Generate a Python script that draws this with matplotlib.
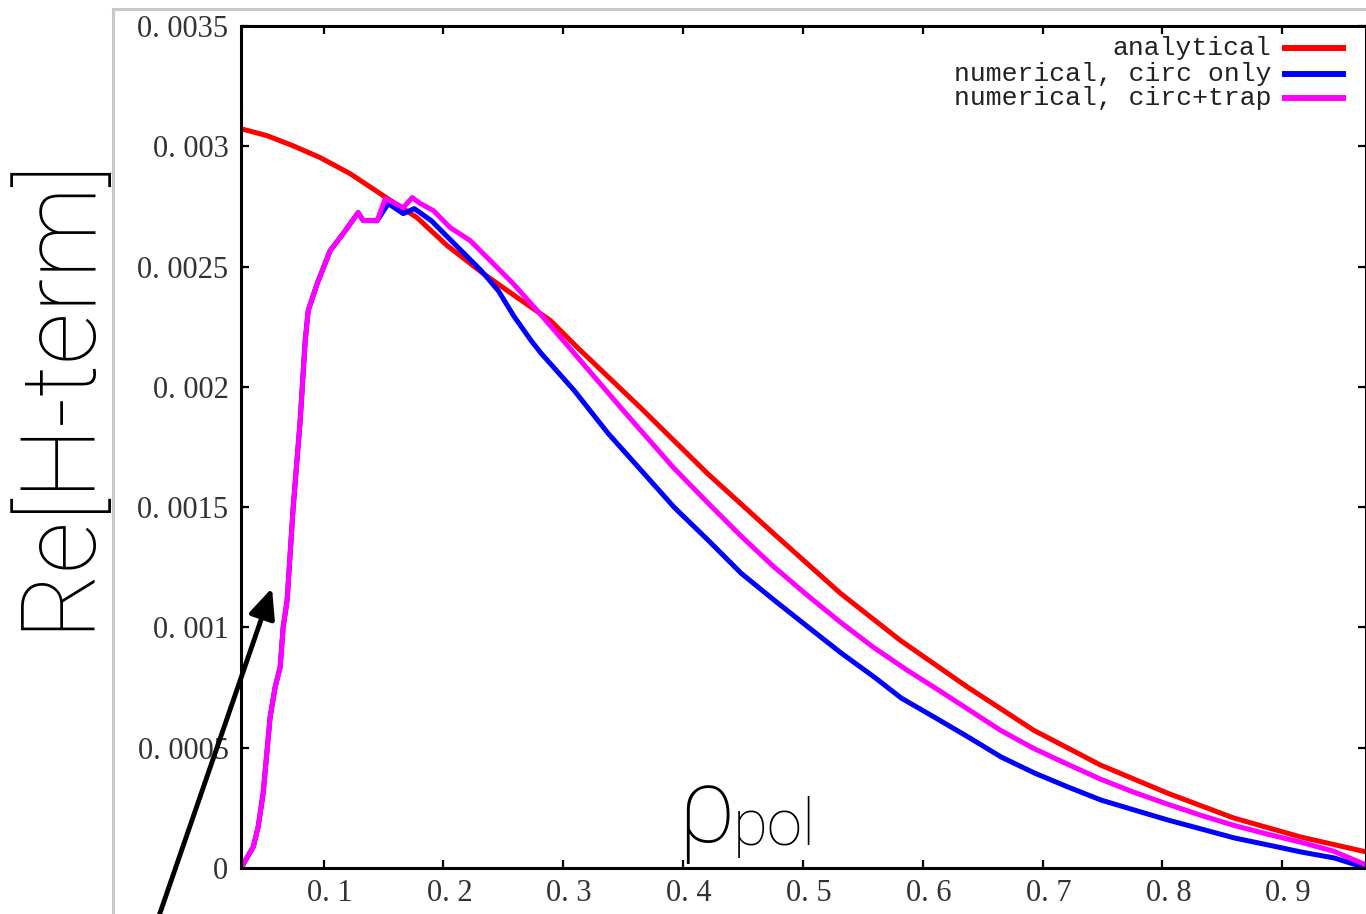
import matplotlib.pyplot as plt
from matplotlib.lines import Line2D
from matplotlib.transforms import ScaledTranslation

# analytical curve
rho_analytical = [0.031, 0.0528, 0.0745, 0.0971, 0.1221, 0.1497, 0.1780, 0.2031, 0.2332,
                  0.2616, 0.2892, 0.3117, 0.3643, 0.4203, 0.4754, 0.5313, 0.5811, 0.6374,
                  0.6925, 0.7484, 0.8044, 0.8595, 0.9154, 0.9705]
h_analytical = [0.003073, 0.003044, 0.003002, 0.002953, 0.002886, 0.002795, 0.002703, 0.002587,
                0.002471, 0.002371, 0.002276, 0.002164, 0.001914, 0.001640, 0.001391, 0.001142,
                0.000947, 0.000752, 0.000573, 0.000428, 0.000311, 0.000208, 0.000129, 0.0000664]

# numerical, circulating particles only
rho_circ = [0.031, 0.0412, 0.0453, 0.0495, 0.0528, 0.0553, 0.0595, 0.0637, 0.0662, 0.0695,
            0.0745, 0.0804, 0.0846, 0.0871, 0.0946, 0.1054, 0.1163, 0.1288, 0.1330, 0.1447,
            0.1539, 0.1664, 0.1756, 0.1898, 0.2040, 0.2173, 0.2315, 0.2457, 0.2590, 0.2732,
            0.2816, 0.3091, 0.3375, 0.3650, 0.3926, 0.4210, 0.4485, 0.4761, 0.5045, 0.5321,
            0.5597, 0.5822, 0.6097, 0.6381, 0.6656, 0.6932, 0.7216, 0.7491, 0.7766, 0.8050,
            0.8326, 0.8601, 0.8885, 0.9160, 0.9436, 0.9702]
h_circ = [0.0, 0.0000872, 0.000170, 0.000311, 0.000490, 0.000627, 0.000752, 0.000835, 0.001001,
          0.001113, 0.001495, 0.001860, 0.002193, 0.002317, 0.002429, 0.002566, 0.002637,
          0.002724, 0.002691, 0.002691, 0.002762, 0.002720, 0.002741, 0.002691, 0.002620,
          0.002554, 0.002483, 0.002400, 0.002292, 0.002192, 0.002139, 0.001985, 0.001806,
          0.001653, 0.001499, 0.001362, 0.001225, 0.001113, 0.001001, 0.000893, 0.000793,
          0.000706, 0.000627, 0.000544, 0.000461, 0.000395, 0.000336, 0.000282, 0.000241,
          0.000199, 0.000162, 0.000125, 0.0000955, 0.0000664, 0.0000415, 0.0]

# numerical, circulating + trapped particles
rho_trap = [0.031, 0.0412, 0.0453, 0.0495, 0.0528, 0.0553, 0.0595, 0.0637, 0.0662, 0.0695,
            0.0745, 0.0804, 0.0846, 0.0871, 0.0946, 0.1054, 0.1163, 0.1288, 0.1330, 0.1447,
            0.1514, 0.1581, 0.1664, 0.1739, 0.1806, 0.1915, 0.2056, 0.2223, 0.2390, 0.2582,
            0.2783, 0.2999, 0.3250, 0.3500, 0.3918, 0.4202, 0.4477, 0.4753, 0.5036, 0.5312,
            0.5587, 0.5871, 0.6146, 0.6647, 0.6922, 0.7206, 0.7481, 0.7756, 0.8040, 0.8316,
            0.8591, 0.8875, 0.9150, 0.9426, 0.9702]
h_trap = [0.0, 0.0000872, 0.000170, 0.000311, 0.000490, 0.000627, 0.000752, 0.000835, 0.001001,
          0.001113, 0.001495, 0.001860, 0.002193, 0.002317, 0.002429, 0.002566, 0.002637,
          0.002724, 0.002691, 0.002691, 0.002782, 0.002766, 0.002745, 0.002787, 0.002762,
          0.002733, 0.002662, 0.002608, 0.002525, 0.002429, 0.002317, 0.002193, 0.002047,
          0.001902, 0.001665, 0.001520, 0.001383, 0.001254, 0.001134, 0.001022, 0.000918,
          0.000822, 0.000735, 0.000573, 0.000498, 0.000432, 0.000370, 0.000316, 0.000266,
          0.000220, 0.000178, 0.000141, 0.000108, 0.0000706, 0.0000125]

xticks = [0.1, 0.2, 0.3, 0.4, 0.5, 0.6, 0.7, 0.8, 0.9]
xtick_labels = ['0. 1', '0. 2', '0. 3', '0. 4', '0. 5', '0. 6', '0. 7', '0. 8', '0. 9']
yticks = [0, 0.0005, 0.001, 0.0015, 0.002, 0.0025, 0.003, 0.0035]
ytick_labels = ['0', '0. 0005', '0. 001', '0. 0015', '0. 002', '0. 0025', '0. 003', '0. 0035']
series_labels = ['analytical', 'numerical, circ only', 'numerical, circ+trap']
colors = ['#ff0000', '#0000ff', '#ff00ff']

W, H = 1366, 914
fig = plt.figure(figsize=(W / 100, H / 100), dpi=100)


def fx(px):
    return px / W


def fy(py):
    return 1 - py / H


ax = fig.add_axes([fx(241), fy(868), fx(1366) - fx(241), fy(26) - fy(868)])

for xs, ys, c in [(rho_analytical, h_analytical, colors[0]),
                  (rho_circ, h_circ, colors[1]),
                  (rho_trap, h_trap, colors[2])]:
    ax.plot(xs, ys, color=c, lw=3.6, solid_joinstyle='round')

ax.set_xlim(0.031, 0.970)
ax.set_ylim(0, 0.0035)
ax.set_xticks(xticks)
ax.set_xticklabels(xtick_labels, fontfamily='Liberation Serif', fontsize=22, color='#333333')
ax.set_yticks(yticks)
ax.set_yticklabels(ytick_labels, fontfamily='Liberation Serif', fontsize=22, color='#333333')
ax.tick_params(direction='in', length=6, width=1.6, top=True, right=True, color='black')
ax.tick_params(axis='x', pad=8)
ax.tick_params(axis='y', pad=9)
# gnuplot puts the x labels a touch right of the ticks
shift = ScaledTranslation(6 / 100, 0, fig.dpi_scale_trans)
for lbl in ax.get_xticklabels():
    lbl.set_transform(lbl.get_transform() + shift)
for s in ax.spines.values():
    s.set_linewidth(2.2)
    s.set_color('black')

# legend, gnuplot style: text right-aligned, sample line on the right
rows_y = [48, 74, 98]
for lab, c, ry in zip(series_labels, colors, rows_y):
    fig.text(fx(1271), fy(ry), lab, ha='right', va='center', fontfamily='Liberation Mono',
             fontsize=19, color='#222222')
    fig.add_artist(Line2D([fx(1285), fx(1343)], [fy(ry), fy(ry)], color=c, lw=4.3))

# light gray frame of the screenshot
frame_kw = dict(color='#c8c8c8', lw=2.2)
fig.add_artist(Line2D([fx(113), fx(113)], [fy(9), 0], **frame_kw))
fig.add_artist(Line2D([fx(113), 1], [fy(9), fy(9)], **frame_kw))

# big overlaid axis labels
fig.text(fx(57), fy(392), 'Re[H-term]', rotation=90, ha='center', va='center',
         fontfamily='Roboto', fontweight='light', fontsize=74, color='black')
fig.text(fx(677), fy(842), 'ρ', ha='left', va='baseline', fontfamily='Roboto',
         fontweight='light', fontsize=76, color='black')
fig.text(fx(733), fy(845), 'pol', ha='left', va='baseline', fontfamily='Roboto',
         fontweight='light', fontsize=46, color='black')

# arrow pointing at the rising part of the trapped curve
ax.annotate('', xy=(272, H - 588), xycoords='figure pixels',
            xytext=(149, -31), textcoords='figure pixels', annotation_clip=False,
            arrowprops=dict(arrowstyle='-|>,head_length=0.9,head_width=0.4',
                            mutation_scale=20, lw=3.5, color='black',
                            shrinkA=0, shrinkB=0))

fig.savefig('out.png', dpi=100)
